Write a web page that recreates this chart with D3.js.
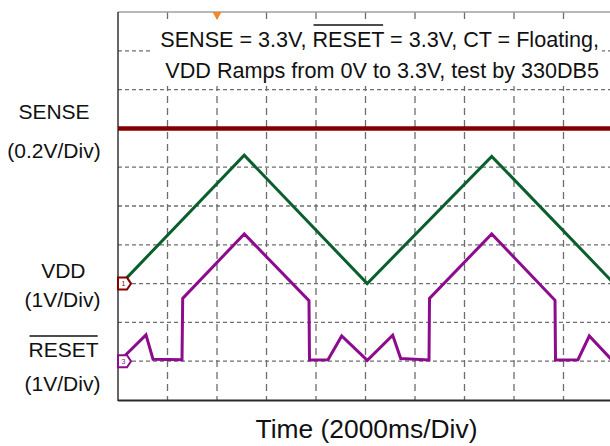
<!DOCTYPE html>
<html>
<head>
<meta charset="utf-8">
<script src="https://cdn.jsdelivr.net/npm/d3@7"></script>
<style>
  html, body { margin: 0; padding: 0; background: #fff; }
  svg { display: block; font-family: "Liberation Sans", Arial, sans-serif; }
</style>
</head>
<body>
<svg id="chart" width="610" height="446"></svg>
<script>
// ---- data (time in seconds, 2000 ms per division; voltages in V) ----
const vddT   = [0.13, 5.10, 10.07, 15.10, 20.0];
const vddV   = [0.00, 3.31, 0.00, 3.28, 0.03];

const resetT = [0.133, 1.131, 1.414, 2.586, 2.614, 5.103, 7.717, 7.737, 8.485, 9.038, 10.073,
                11.099, 11.422, 12.566, 12.586, 15.099, 17.657, 17.677, 18.586, 19.042, 20.0];
const resetV = [0.05, 0.68, 0.05, 0.04, 1.62, 3.28, 1.56, 0.03, 0.04, 0.65, 0.02,
                0.67, 0.07, 0.03, 1.62, 3.28, 1.57, 0.03, 0.04, 0.65, 0.0];

const senseT = [0, 20];
const senseV = [3.3, 3.3];

const titleLines = ["SENSE = 3.3V, RESET = 3.3V, CT = Floating,",
                    "VDD Ramps from 0V to 3.3V, test by 330DB5"];
const xLabel = "Time (2000ms/Div)";

// ---- layout ----
const svg = d3.select("#chart");
const L = 118, T = 12, B = 400, R = 613;
const x = d3.scaleLinear().domain([0, 20]).range([L, R]);
const yDiv = d3.scaleLinear().domain([0, 10]).range([T, B]);

// channel placement: zero (or offset) level in divisions + volts/div
const ch = {
  sense: { ref: 3.3, div: 3, vpd: 0.2, color: "#820000", w: 4.5 },
  vdd:   { ref: 0,   div: 7, vpd: 1,   color: "#0b5f2c", w: 3 },
  reset: { ref: 0,   div: 9, vpd: 1,   color: "#8d0c8d", w: 3 }
};
const yCh = c => v => yDiv(c.div - (v - c.ref) / c.vpd);

// ---- grid ----
const grid = svg.append("g");
grid.selectAll("line.h").data(d3.range(1, 10)).join("line")
  .attr("x1", L).attr("x2", 610)
  .attr("y1", d => yDiv(d)).attr("y2", d => yDiv(d))
  .attr("stroke", "#6e6e6e").attr("stroke-width", 1.3)
  .attr("stroke-dasharray", "4,3");
grid.selectAll("line.v").data(d3.range(1, 10)).join("line")
  .attr("x1", d => x(d * 2)).attr("x2", d => x(d * 2))
  .attr("y1", T).attr("y2", B)
  .attr("stroke", "#6e6e6e").attr("stroke-width", 1.3)
  .attr("stroke-dasharray", "7,5");

// borders
svg.append("line").attr("x1", L).attr("x2", 610).attr("y1", T).attr("y2", T)
  .attr("stroke", "#a0a0a0").attr("stroke-width", 1.5);
svg.append("line").attr("x1", L).attr("x2", 610).attr("y1", B + 0.5).attr("y2", B + 0.5)
  .attr("stroke", "#2a2a2a").attr("stroke-width", 2);
svg.append("line").attr("x1", L).attr("x2", L).attr("y1", T).attr("y2", B + 1)
  .attr("stroke", "#333").attr("stroke-width", 1.5);

// trigger marker
svg.append("path")
  .attr("d", `M${x(4) - 4.5},${T} L${x(4) + 4.5},${T} L${x(4)},${T + 8} Z`)
  .attr("fill", "#f0882c");

// ---- title box ----
svg.append("rect").attr("x", 153).attr("y", 20).attr("width", 449).attr("height", 66)
  .attr("fill", "#fff");
const tl = svg.append("g").attr("font-size", "21.6px").attr("fill", "#111");
const t1 = tl.append("text").attr("x", 599).attr("y", 46.5).attr("text-anchor", "end").text(titleLines[0]);
tl.append("text").attr("x", 599).attr("y", 78).attr("text-anchor", "end").text(titleLines[1]);

function overline(textSel, word, yLine) {
  const node = textSel.node();
  const s = node.textContent;
  const i = s.indexOf(word);
  const a = node.getExtentOfChar(i);
  const b = node.getExtentOfChar(i + word.length - 1);
  svg.append("line").attr("x1", a.x + 1).attr("x2", b.x + b.width - 1)
    .attr("y1", yLine).attr("y2", yLine)
    .attr("stroke", "#111").attr("stroke-width", 1.6);
}
overline(t1, "RESET", 25);

// ---- traces ----
svg.append("clipPath").attr("id", "clip").append("rect")
  .attr("x", L).attr("y", T).attr("width", R - L).attr("height", B - T);
const tr = svg.append("g").attr("clip-path", "url(#clip)");

function trace(ts, vs, c) {
  const pts = ts.map((t, i) => [t, vs[i]]);
  const line = d3.line().x(d => x(d[0])).y(d => yCh(c)(d[1]));
  tr.append("path").datum(pts).attr("d", line)
    .attr("fill", "none").attr("stroke", c.color).attr("stroke-width", c.w)
    .attr("stroke-linejoin", "miter").attr("stroke-linecap", "butt");
}
trace(senseT, senseV, ch.sense);
trace(vddT, vddV, ch.vdd);
trace(resetT, resetV, ch.reset);

// channel ground markers (ch1 marker drawn in ch1 colour, ch3 in ch3 colour)
function marker(c, label, color) {
  const yc = yCh(c)(0);
  const g = svg.append("g");
  g.append("path")
    .attr("d", `M${L},${yc - 6} L${L + 9},${yc - 6} L${L + 13},${yc} L${L + 9},${yc + 6} L${L},${yc + 6} Z`)
    .attr("fill", "#fff").attr("stroke", color).attr("stroke-width", 2);
  g.append("text").attr("x", L + 5.5).attr("y", yc + 2.5).attr("text-anchor", "middle")
    .attr("font-size", "7px").attr("fill", color).text(label);
}
marker(ch.vdd, "1", ch.sense.color);
marker(ch.reset, "3", ch.reset.color);

// ---- left labels ----
const lab = svg.append("g").attr("font-size", "21px").attr("fill", "#111").attr("text-anchor", "middle");
lab.append("text").attr("x", 54).attr("y", 119).text("SENSE");
lab.append("text").attr("x", 54).attr("y", 157.5).text("(0.2V/Div)");
lab.append("text").attr("x", 63.3).attr("y", 277.7).text("VDD");
lab.append("text").attr("x", 62.5).attr("y", 306.5).text("(1V/Div)");
const rl = lab.append("text").attr("x", 63.5).attr("y", 356.7).text("RESET");
lab.append("text").attr("x", 62.5).attr("y", 391).text("(1V/Div)");
{
  const bb = rl.node().getBBox();
  svg.append("line").attr("x1", bb.x + 1).attr("x2", bb.x + bb.width - 1)
    .attr("y1", 336).attr("y2", 336).attr("stroke", "#111").attr("stroke-width", 1.6);
}

// ---- x label ----
svg.append("text").attr("x", 366.5).attr("y", 438).attr("text-anchor", "middle")
  .attr("font-size", "26.4px").attr("fill", "#111").text(xLabel);
</script>
</body>
</html>
